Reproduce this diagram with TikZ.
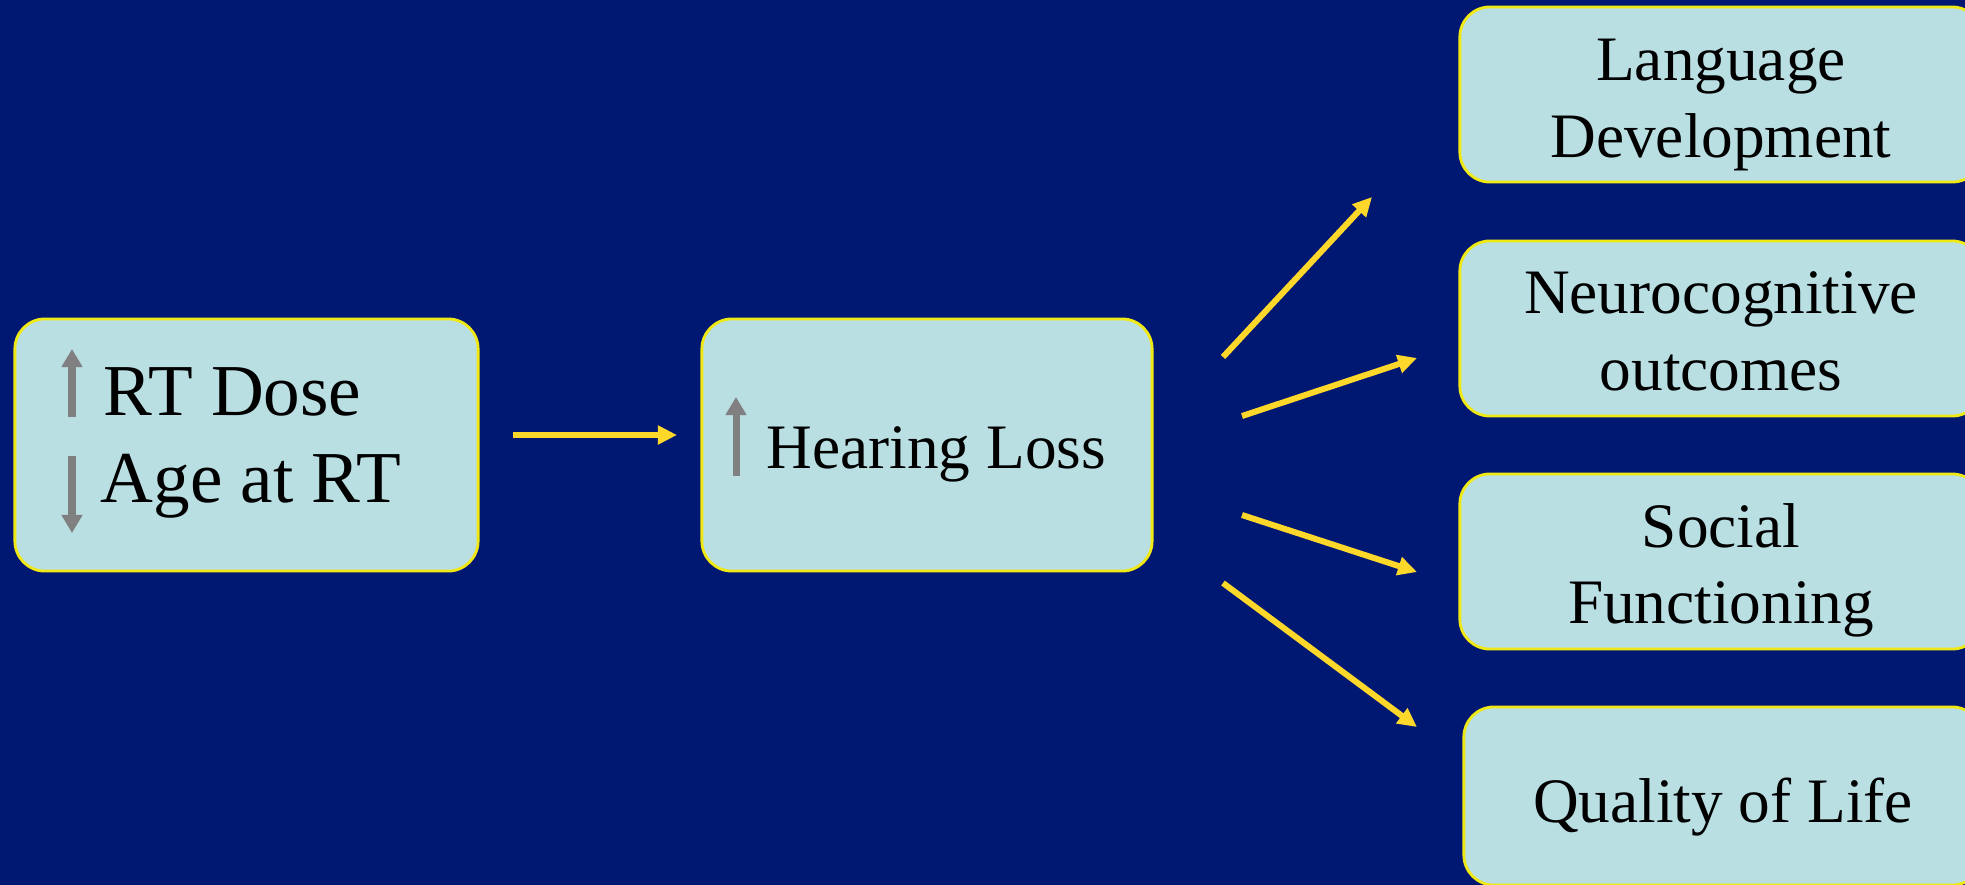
\documentclass[tikz,border=0pt]{standalone}
\usepackage{fontspec}
\setmainfont{Liberation Serif}
\usetikzlibrary{arrows.meta,positioning}
\definecolor{slidebg}{RGB}{1,24,115}
\definecolor{boxfill}{RGB}{185,223,227}
\definecolor{boxedge}{RGB}{240,232,20}
\definecolor{flowyel}{RGB}{253,216,42}
\definecolor{trendgray}{RGB}{128,128,128}
\tikzset{
  obox/.style={draw=boxedge, line width=0.8pt, fill=boxfill, rounded corners=0.3cm, inner sep=0pt},
  bigtxt/.style={font=\fontsize{20.8}{25}\selectfont, inner sep=0pt, anchor=base west},
  txt/.style={font=\fontsize{18}{22}\selectfont, inner sep=0pt, anchor=base},
  flow/.style={-{Triangle[length=0.19cm, width=0.18cm]}, flowyel, line width=0.06cm},
  trend/.style={-{Triangle[length=0.18cm, width=0.2cm]}, trendgray, line width=0.07cm},
}

\begin{document}
\begin{tikzpicture}[x=0.01cm, y=-0.01cm]
\useasboundingbox (0,0) rectangle (1965,884);
\fill[slidebg] (-20,-20) rectangle (1985,904);
\clip (-20,-20) rectangle (1985,904);
% cause
\node[obox, minimum width=4.63cm, minimum height=2.52cm] (dose) at (246.5,445) {};
\node[bigtxt] (rtdose) at (103,415) {RT Dose};
\node[bigtxt] (rtage) at (100,502) {Age at RT};
\draw[trend] (72,417) -- (72,349);
\draw[trend] (72,456) -- (72,533);
% middle
\node[obox, minimum width=4.5cm, minimum height=2.52cm] (hear) at (927,445) {};
\node[txt, anchor=base west] (hearlbl) at (766,468) {Hearing Loss};
\draw[trend] (736,476) -- (736,397);
% outcomes
\node[obox, minimum width=5.22cm, minimum height=1.75cm] (lang) at (1721,94.5) {};
\node[obox, minimum width=5.22cm, minimum height=1.75cm] (neuro) at (1721,328.5) {};
\node[obox, minimum width=5.22cm, minimum height=1.75cm] (soc) at (1721,561.5) {};
\node[obox, minimum width=5.18cm, minimum height=1.78cm] (qol) at (1723,796) {};
\node[txt] (lang1) at (1721,80) {Language};
\node[txt] (lang2) at (1721,157) {Development};
\node[txt] (neuro1) at (1721,313) {Neurocognitive};
\node[txt] (neuro2) at (1721,390) {outcomes};
\node[txt] (soc1) at (1721,547) {Social};
\node[txt] (soc2) at (1721,623) {Functioning};
\node[txt] (qol1) at (1723,822) {Quality of Life};
% arrows
\coordinate (hs) at (513,435);
\coordinate (he) at (677,435);
\draw[flow] (hs) -- (he);
\foreach \nm/\sx/\sy/\ex/\ey in {ld/1223/357/1372/197, nc/1242/416/1417/358,
    sf/1242/515/1417/572, ql/1223/583/1417/727}{
  \coordinate (\nm s) at (\sx,\sy);
  \coordinate (\nm e) at (\ex,\ey);
  \draw[flow] (\nm s) -- (\nm e);}
\end{tikzpicture}
\end{document}
